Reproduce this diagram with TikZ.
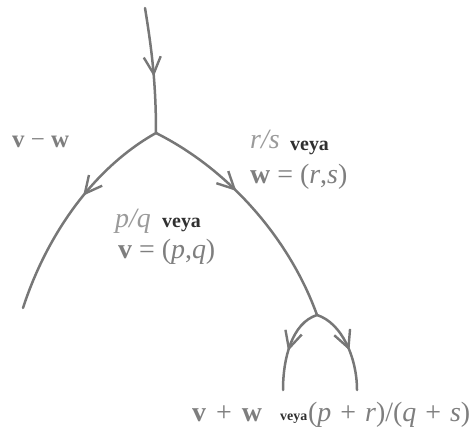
\documentclass[tikz,border=0pt]{standalone}
\usepackage{fontspec}
\setmainfont{Liberation Serif}
\usetikzlibrary{arrows.meta,decorations.markings}
\definecolor{linegray}{HTML}{777777}
\definecolor{txtgray}{HTML}{7E7E7E}
\definecolor{lightgray}{HTML}{9A9A9A}
\definecolor{darktxt}{HTML}{303030}
\tikzset{
  branch/.style={draw=linegray, line width=2.5bp, line cap=round},
  midarrow/.style={postaction={decorate}, decoration={markings,
    mark=at position #1 with {\arrow[linegray, line width=2.4bp]{Straight Barb[length=17bp,width=17bp]}}}},
  lbl/.style={inner sep=0pt, anchor=base west, text=txtgray, font=\fontsize{28}{32}\selectfont},
  frac/.style={inner sep=0pt, anchor=base west, text=lightgray, font=\fontsize{28}{32}\selectfont\itshape},
  veya/.style={inner sep=0pt, anchor=base west, text=darktxt, font=\fontsize{20}{22}\selectfont\bfseries},
}
\newcommand{\psp}{\hspace{10bp}}
\newcommand{\qsp}{\hspace{9bp}}
\begin{document}
\begin{tikzpicture}[x=1bp,y=-1bp]
\useasboundingbox (0,0) rectangle (475,435);
\coordinate (top) at (145,8);
\coordinate (j1) at (156,133);
\coordinate (l1) at (23,308);
\coordinate (j2) at (317,315);
\coordinate (l2) at (283,390);
\coordinate (r2) at (357,390);

\draw[branch, midarrow=0.55] (top) .. controls (151,45) and (156,80) .. (j1);
\draw[branch, midarrow=0.43] (j1) .. controls (90,170) and (45,240) .. (l1);
\draw[branch, midarrow=0.4] (j1) .. controls (230,170) and (290,240) .. (j2);
\draw[branch, midarrow=0.55] (j2) .. controls (292,323) and (283,358) .. (l2);
\draw[branch, midarrow=0.55] (j2) .. controls (342,323) and (357,358) .. (r2);

\node[lbl, font=\fontsize{25}{28}\selectfont] (vmw) at (12,148) {\textbf{v} − \textbf{w}};
\node[frac] (rs) at (250,149) {r/s};
\node[veya] (veya1) at (290,151) {veya};
\node[lbl] (weq) at (250,184) {\textbf{w} = (\textit{r},\textit{s})};
\node[frac] (pq) at (115,228) {p/q};
\node[veya] (veya2) at (162,228) {veya};
\node[lbl] (veq) at (118,258) {\textbf{v} = (\textit{p},\textit{q})};
\node[lbl] (vpw) at (192,421) {\textbf{v}\psp+\psp\textbf{w}};
\node[veya, font=\fontsize{14}{16}\selectfont\bfseries] (veya3) at (280,420) {veya};
\node[lbl] (pr) at (308,421) {(\textit{p}\qsp+\qsp\textit{r})/(\textit{q}\qsp+\qsp\textit{s})};
\end{tikzpicture}
\end{document}
